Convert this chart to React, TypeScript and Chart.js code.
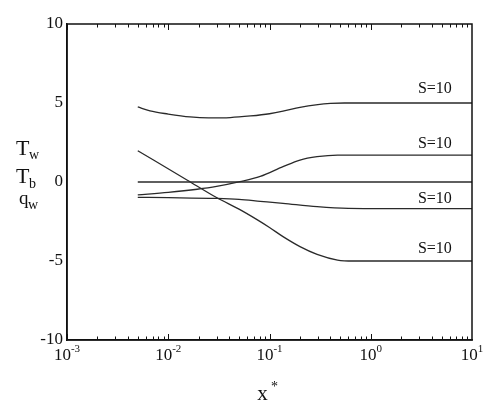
import React, { useEffect, useRef } from "react";
import { Chart, registerables } from "chart.js";

Chart.register(...registerables);

// Series data (x*, value)
const topX = [0.005, 0.0066, 0.01, 0.0164, 0.025, 0.041, 0.065, 0.1, 0.136, 0.2, 0.3, 0.4, 0.55, 1, 10];
const topY = [4.75, 4.5, 4.3, 4.12, 4.06, 4.08, 4.18, 4.32, 4.48, 4.73, 4.9, 4.97, 5.0, 5.0, 5.0];

const riseX = [0.005, 0.01, 0.0193, 0.03, 0.051, 0.081, 0.136, 0.2, 0.295, 0.47, 0.7, 10];
const riseY = [-0.82, -0.66, -0.46, -0.28, 0.02, 0.35, 0.97, 1.39, 1.6, 1.7, 1.7, 1.7];

const zeroX = [0.005, 10];
const zeroY = [0, 0];

const slightX = [0.005, 0.01, 0.0303, 0.05, 0.081, 0.136, 0.295, 0.6, 1, 10];
const slightY = [-0.97, -0.99, -1.04, -1.1, -1.22, -1.35, -1.56, -1.67, -1.68, -1.68];

const steepX = [0.005, 0.0153, 0.0303, 0.05, 0.076, 0.1, 0.136, 0.2, 0.295, 0.47, 0.67, 10];
const steepY = [1.98, 0.13, -1.0, -1.72, -2.4, -2.88, -3.46, -4.09, -4.58, -4.94, -5.0, -5.0];

// Curve annotations
const curveLabels = ["S=10", "S=10", "S=10", "S=10"];
const curveLabelX = [4.3, 4.3, 4.3, 4.3];
const curveLabelY = [5.65, 2.15, -1.3, -4.5];

// Axis ticks
const xTickValues = [0.001, 0.01, 0.1, 1, 10];
const xTickExponents = ["-3", "-2", "-1", "0", "1"];
const yTickValues = [-10, -5, 0, 5, 10];

const FONT = "'Liberation Serif', 'DejaVu Serif', serif";

function pts(xs: number[], ys: number[]) {
  return xs.map((x, i) => ({ x, y: ys[i] }));
}

const decorPlugin = {
  id: "decor",
  afterDraw(chart: any) {
    const ctx = chart.ctx as CanvasRenderingContext2D;
    const { left, right, top, bottom } = chart.chartArea;
    const xs = chart.scales.x;
    const ys = chart.scales.y;
    ctx.save();
    // frame
    ctx.strokeStyle = "#111";
    ctx.lineWidth = 1.5;
    ctx.strokeRect(left, top, right - left, bottom - top);

    // inward log ticks top & bottom
    ctx.lineWidth = 1;
    for (let k = -3; k <= 0; k++) {
      for (let m = 1; m <= 9; m++) {
        const v = m * Math.pow(10, k);
        const px = Math.round(xs.getPixelForValue(v)) + 0.5;
        const len = m === 1 ? 6 : 3.5;
        ctx.beginPath();
        ctx.moveTo(px, bottom);
        ctx.lineTo(px, bottom - len);
        ctx.moveTo(px, top);
        ctx.lineTo(px, top + len);
        ctx.stroke();
      }
    }

    // x tick labels 10^n
    ctx.fillStyle = "#111";
    ctx.textBaseline = "alphabetic";
    ctx.textAlign = "left";
    xTickValues.forEach((v, i) => {
      const px = xs.getPixelForValue(v);
      ctx.font = `17px ${FONT}`;
      const wb = ctx.measureText("10").width;
      ctx.font = `11px ${FONT}`;
      const we = ctx.measureText(xTickExponents[i]).width;
      const x0 = px - (wb + we) / 2;
      ctx.font = `17px ${FONT}`;
      ctx.fillText("10", x0, bottom + 20);
      ctx.font = `11px ${FONT}`;
      ctx.fillText(xTickExponents[i], x0 + wb, bottom + 12);
    });

    // curve labels
    ctx.font = `16px ${FONT}`;
    ctx.textAlign = "center";
    curveLabels.forEach((t, i) => {
      ctx.fillText(t, xs.getPixelForValue(curveLabelX[i]), ys.getPixelForValue(curveLabelY[i]));
    });

    // y title: Tw, Tb, qw
    ctx.textAlign = "left";
    ctx.font = `22px ${FONT}`;
    ctx.fillText("T", 16, 155);
    ctx.fillText("T", 16, 183);
    ctx.font = `19px ${FONT}`;
    ctx.fillText("q", 19, 204);
    ctx.font = `14px ${FONT}`;
    ctx.fillText("w", 29, 159);
    ctx.fillText("b", 29, 188);
    ctx.fillText("w", 28, 209);

    // x title: x*
    const cx = (left + right) / 2;
    ctx.font = `21px ${FONT}`;
    ctx.textAlign = "center";
    ctx.fillText("x", cx - 7, 400);
    ctx.font = `14px ${FONT}`;
    ctx.fillText("*", cx + 5, 391);
    ctx.restore();
  },
};

export default function App() {
  const ref = useRef<HTMLCanvasElement>(null);
  useEffect(() => {
    if (!ref.current) return;
    const lineStyle = {
      borderColor: "#2a2a2a",
      borderWidth: 1.3,
      pointRadius: 0,
      fill: false,
      cubicInterpolationMode: "monotone" as const,
    };
    const chart = new Chart(ref.current, {
      type: "line",
      data: {
        datasets: [
          { label: "top", data: pts(topX, topY), ...lineStyle },
          { label: "rise", data: pts(riseX, riseY), ...lineStyle },
          { label: "zero", data: pts(zeroX, zeroY), ...lineStyle },
          { label: "slight", data: pts(slightX, slightY), ...lineStyle },
          { label: "steep", data: pts(steepX, steepY), ...lineStyle },
        ],
      },
      options: {
        animation: false,
        responsive: false,
        maintainAspectRatio: false,
        layout: { padding: { top: 24, right: 15, left: 0, bottom: 0 } },
        plugins: { legend: { display: false }, tooltip: { enabled: false } },
        scales: {
          x: {
            type: "logarithmic",
            min: 0.001,
            max: 10,
            ticks: { display: false },
            grid: { display: false, drawTicks: false },
            border: { display: true, color: "#111", width: 1.5 },
            afterFit: (s: any) => {
              s.height = 65;
            },
          },
          y: {
            min: -10,
            max: 10,
            afterBuildTicks: (s: any) => {
              s.ticks = yTickValues.map((v) => ({ value: v }));
            },
            ticks: {
              color: "#111",
              padding: 4,
              font: { family: FONT, size: 17 },
            },
            grid: { display: false, drawTicks: false },
            border: { display: true, color: "#111", width: 1.5 },
            afterFit: (s: any) => {
              s.width = 67;
            },
          },
        },
      },
      plugins: [decorPlugin],
    });
    return () => chart.destroy();
  }, []);
  return (
    <div style={{ position: "fixed", left: 0, top: 0, width: 487, height: 405, background: "#fff" }}>
      <canvas ref={ref} width={487} height={405} style={{ width: 487, height: 405 }} />
    </div>
  );
}
